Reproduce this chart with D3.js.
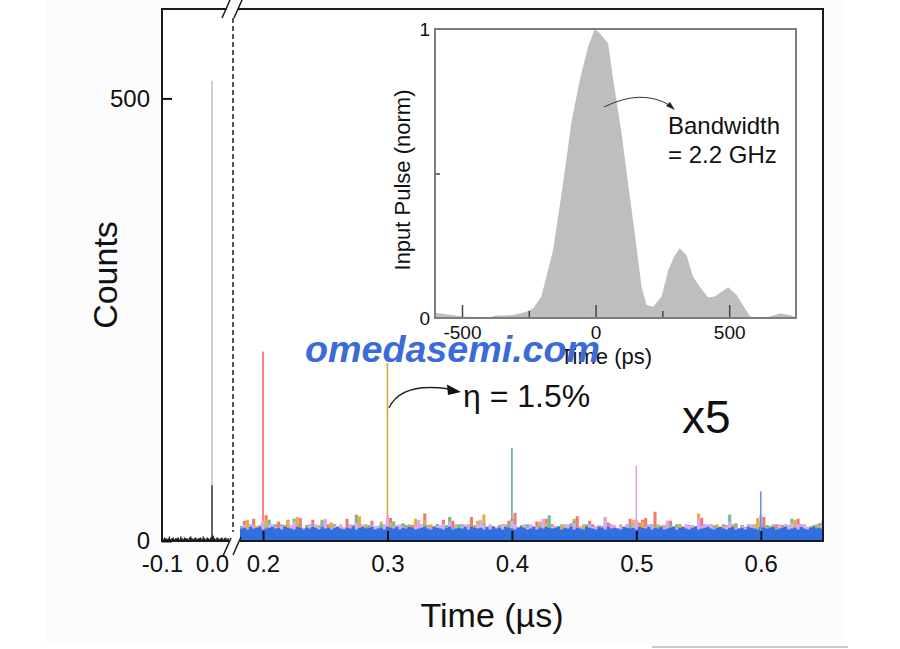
<!DOCTYPE html>
<html>
<head>
<meta charset="utf-8">
<script src="https://cdn.jsdelivr.net/npm/d3@7"></script>
<style>
  body { margin: 0; background: #fff; }
  text { font-family: "Liberation Sans", Arial, Helvetica, sans-serif; fill: #111; }
</style>
</head>
<body>
<svg id="chart" width="900" height="649"></svg>
<script>
// ---- data ----
var binWidth = 0.0025;           // us
var leftStart = -0.1;            // centre of first bin, left panel
var rightStart = 0.1825;         // centre of first bin, right panel

// left panel (before the break), raw counts
var leftCounts = [3,2,4,3,2,3,5,2,3,4, 2,3,3,4,2,5,3,2,4,3, 3,2,4,5,3,2,3,4,2,3,
                  3,4,2,5,3,2,4,3,2,4, 520, 6,3,2,4,3,2,3,4,2, 3,4,2,3];
var zeroPeakCore = 63;

// right panel (x5), one histogram per delay; noise counts written base-36 (a=10 ... z=35)
var seriesColors = ["#f47878", "#e6b03c", "#6cc38e", "#dcaaf2", "#2f6fe0"];
var peakColors   = ["#ff6464", "#d8a830", "#5cb87c", "#d6a6ef", "#5f95ea"];
var peakTimes  = [0.2, 0.3, 0.4, 0.5, 0.6];
var peakCounts = [214, 201, 105, 85, 56];

var noiseRed =
  "gneipfdjthhfmdioegjqeigofdhnjljdgfpeiuhffinehdjgqedhkgfimejviefjdoghnfgjehrdfike" +
  "ehfijgndwffidgemhjpgjgeifdkhsedgnjhieflgiegdjpheloqehxfidjnffjgeihdmqehdgifjeogk" +
  "eifghdnjrfgfjeihdmfpjhefgikdtg";
var noiseYellow =
  "egofihdjpfidgjenfhrefhjgdioegkdgifejhfsdjfehgmidlggidfjephfnejhgidfqfjhfejgineud" +
  "igfdejhofgdjgihfmekjfhejdgipgejifgehdrfdgdjfieohjmefhgjdingeijdfgehvfhfeijdhgmjg" +
  "dgfeijqhfhhjegfdieogfighdjelfe";
var noiseGreen =
  "hgdjfeimgofjeihdgpefdhfjgeniffjegdfihseggifehjdogmedjigfhkeihfgjedirfgjiefghdnje" +
  "fgdhiejpgfiejfdghletgfhdjeinfdejigfdhqejhdgeijfmgffijehgdkiejefdgihofjgjhefdiuej" +
  "digjhefnfihfeigjdpgeejdfigkmfj";
var noisePurple =
  "fiejgdhnejjgfhdeimgfedigjfhpfehgjefidlgjdfihgejsfgijgfdehojegedhijfmdgfhjgedioif" +
  "jdgfihenjfeifjhgdpgehgedijfkehdfjghieqfjiegfjdhogfgjhedifnehfdgjhieqhjjiefgdhmgf" +
  "ehfijgdteffgdjeihlfjijgefdhnge";
var noiseBlue =
  "efdgefgdefgefdgfedgfdfegfdgefdfgedfegdfgefgdefdgfegdfegfdefgedgfedfgdefegdgfefdg" +
  "dgefdgfedfgfdegdfegfefgdfegdfedgfedgfdgefedgfefdgfegdfegdefgdfgedfgdefgedfgedfgd" +
  "efdgfedgfefgdefgdefdgedfgefdge";
var noiseSeries = [noiseRed, noiseYellow, noiseGreen, noisePurple, noiseBlue];

var xTicksLeft = [-0.1, 0.0];
var xTicksRight = [0.2, 0.3, 0.4, 0.5, 0.6];
var yTicks = [0, 500];

// inset: input pulse
var pulseTime = [-601,-598,-500,-396,-377,-309,-259,-234,-203,-159,-120,-90,-59,-28,-3,16,47,66,97,
                 120,153,172,191,215,247,272,297,315,340,365,390,421,446,496,528,578,615,652,690,727,750];
var pulseNorm = [0.018,0.018,0.005,0.002,0.008,0.010,0.022,0.033,0.074,0.235,0.477,0.68,0.824,0.939,1.0,0.985,0.95,0.824,0.639,
                 0.477,0.247,0.108,0.045,0.039,0.074,0.166,0.218,0.241,0.218,0.143,0.108,0.071,0.074,0.106,0.08,0.005,0.0,0.005,0.016,0.01,0.003];
var insetXTicks = [-500, 0, 500];
var insetXMinor = [-250, 250];
var insetYTicks = [0, 1];
var insetYMinor = [0.5];

// ---- layout ----
var svg = d3.select("#chart");
var fL = 162, fR = 823, fT = 9, fB = 541;
var leftBreak = 229, rightBreak = 240;

svg.append("rect").attr("x", 46).attr("y", 0).attr("width", 797).attr("height", 643).attr("fill", "#fcfcfc");
svg.append("line").attr("x1", 652).attr("x2", 848).attr("y1", 647).attr("y2", 647)
    .attr("stroke", "#c9c9c9").attr("stroke-width", 2);
svg.append("rect").attr("x", fL).attr("y", fT).attr("width", fR - fL).attr("height", fB - fT)
    .attr("fill", "#fff");

var y = d3.scaleLinear().domain([0, 601]).range([fB, fT]);
var xL = d3.scaleLinear().domain([-0.1, 0.0]).range([162, 212]);
var xR = d3.scaleLinear().domain([0.1815, 0.65]).range([rightBreak, fR]);

var defs = svg.append("defs");
defs.append("clipPath").attr("id", "clipR").append("rect")
    .attr("x", rightBreak).attr("y", fT).attr("width", fR - rightBreak).attr("height", fB - fT);
defs.append("clipPath").attr("id", "clipL").append("rect")
    .attr("x", fL).attr("y", fT).attr("width", leftBreak - fL).attr("height", fB - fT);

// step area helper: values are bins centred at start + i*binWidth
function stepPath(x, start, values) {
  var pts = values.map(function(v, i) { return [start + i * binWidth - binWidth / 2, v]; });
  pts.push([start + values.length * binWidth - binWidth / 2, values[values.length - 1]]);
  return d3.area()
    .x(function(d) { return x(d[0]); })
    .y0(y(0))
    .y1(function(d) { return y(d[1]); })
    .curve(d3.curveStepAfter)(pts);
}

// left panel
var gL = svg.append("g").attr("clip-path", "url(#clipL)");
gL.append("path").attr("d", stepPath(xL, leftStart, leftCounts)).attr("fill", "#b3b3b3");
gL.append("path")
  .attr("d", stepPath(xL, leftStart, leftCounts.map(function(v) { return Math.min(v, zeroPeakCore); })))
  .attr("fill", "#222");

// right panel
var gR = svg.append("g").attr("clip-path", "url(#clipR)");
noiseSeries.forEach(function(s, k) {
  var vals = s.split("").map(function(c) { return parseInt(c, 36); });
  var pi = Math.round((peakTimes[k] - rightStart) / binWidth);
  gR.append("path").attr("d", stepPath(xR, rightStart, vals)).attr("fill", seriesColors[k]);
  var t = rightStart + pi * binWidth;
  gR.append("rect")
    .attr("x", xR(t) - 0.8).attr("width", 1.6)
    .attr("y", y(peakCounts[k])).attr("height", y(0) - y(peakCounts[k]))
    .attr("fill", peakColors[k]);
});

// frame with axis break
var frame = svg.append("g").attr("fill", "none").attr("stroke", "#1a1a1a").attr("stroke-width", 2);
frame.append("path").attr("d",
  "M" + 227 + "," + fT + "H" + fL + "V" + fB + "H" + leftBreak +
  "M" + rightBreak + "," + fB + "H" + fR + "V" + fT + "H" + 238);
[[226, fT], [238, fT], [227, fB + 6], [237, fB + 5]].forEach(function(c) {
  frame.append("line")
    .attr("x1", c[0] - 4).attr("y1", c[1] + 9).attr("x2", c[0] + 4).attr("y2", c[1] - 9)
    .attr("stroke-width", 1.5);
});
svg.append("line").attr("x1", 233).attr("x2", 233).attr("y1", 18).attr("y2", 532)
  .attr("stroke", "#555").attr("stroke-width", 2).attr("stroke-dasharray", "5,3");

// axes
var fmt1 = function(d) { return d.toFixed(1); };
var axY = svg.append("g").attr("transform", "translate(" + fL + ",0)")
  .call(d3.axisLeft(y).tickValues(yTicks).tickSize(-10).tickPadding(12));
var axXR = svg.append("g").attr("transform", "translate(0," + fB + ")")
  .call(d3.axisBottom(xR).tickValues(xTicksRight).tickSize(-10).tickPadding(14).tickFormat(fmt1));
var axXL = svg.append("g").attr("transform", "translate(0," + fB + ")")
  .call(d3.axisBottom(xL).tickValues(xTicksLeft).tickSize(0).tickPadding(14).tickFormat(fmt1));
[axY, axXR, axXL].forEach(function(a) {
  a.select(".domain").remove();
  a.selectAll(".tick line").attr("stroke", "#111").attr("stroke-width", 2);
  a.selectAll("text").style("font-size", "24px").attr("fill", "#111");
});

svg.append("text").attr("transform", "translate(117,275) rotate(-90)")
  .attr("text-anchor", "middle").style("font-size", "34px").text("Counts");
svg.append("text").attr("x", 492).attr("y", 627)
  .attr("text-anchor", "middle").style("font-size", "34px").text("Time (\u00b5s)");

// annotation
svg.append("path").attr("d", "M389,408 Q401,382 449,389")
  .attr("fill", "none").attr("stroke", "#222").attr("stroke-width", 1.3);
svg.append("path").attr("d", "M461,392 L447,384.5 L448,395 Z").attr("fill", "#111");
svg.append("text").attr("x", 463).attr("y", 407).style("font-size", "32px").text("\u03b7 = 1.5%");
svg.append("text").attr("x", 682).attr("y", 433).style("font-size", "46px").text("x5");

// ---- inset ----
var iL = 435, iR = 796, iT = 29, iB = 318;
var ix = d3.scaleLinear().domain([-601, 750]).range([iL, iR]);
var iy = d3.scaleLinear().domain([0, 1]).range([iB, iT]);
defs.append("clipPath").attr("id", "clipI").append("rect")
  .attr("x", iL).attr("y", iT).attr("width", iR - iL).attr("height", iB - iT);
svg.append("rect").attr("x", iL).attr("y", iT).attr("width", iR - iL).attr("height", iB - iT).attr("fill", "#fff");
svg.append("path").attr("clip-path", "url(#clipI)")
  .datum(pulseTime.map(function(t, i) { return [t, pulseNorm[i]]; }))
  .attr("fill", "#bebebe")
  .attr("d", d3.area().x(function(d) { return ix(d[0]); }).y0(iB).y1(function(d) { return iy(d[1]); }));

var axIX = svg.append("g").attr("transform", "translate(0," + iB + ")")
  .call(d3.axisBottom(ix).tickValues(insetXTicks).tickSize(-13).tickPadding(8).tickFormat(function(d) { return String(d); }));
var axIXm = svg.append("g").attr("transform", "translate(0," + iB + ")")
  .call(d3.axisBottom(ix).tickValues(insetXMinor).tickSize(-7).tickFormat(""));
var axIY = svg.append("g").attr("transform", "translate(" + iL + ",0)")
  .call(d3.axisLeft(iy).tickValues(insetYTicks).tickSize(0).tickPadding(5).tickFormat(d3.format("d")));
var axIYm = svg.append("g").attr("transform", "translate(" + iL + ",0)")
  .call(d3.axisLeft(iy).tickValues(insetYMinor).tickSize(-5).tickFormat(""));
[axIX, axIXm, axIY, axIYm].forEach(function(a) {
  a.select(".domain").remove();
  a.selectAll(".tick line").attr("stroke", "#444").attr("stroke-width", 1.5);
  a.selectAll("text").style("font-size", "19px").attr("fill", "#222");
});
svg.append("rect").attr("x", iL).attr("y", iT).attr("width", iR - iL).attr("height", iB - iT)
  .attr("fill", "none").attr("stroke", "#7d7d7d").attr("stroke-width", 2);

svg.append("text").attr("transform", "translate(410,180) rotate(-90)")
  .attr("text-anchor", "middle").style("font-size", "22px").text("Input Pulse (norm)");
svg.append("text").attr("x", 606).attr("y", 364)
  .attr("text-anchor", "middle").style("font-size", "22px").text("Time (ps)");
svg.append("path").attr("d", "M604,107 Q642,88 671,106")
  .attr("fill", "none").attr("stroke", "#333").attr("stroke-width", 1);
svg.append("path").attr("d", "M675,110 L666,106 L670,102 Z").attr("fill", "#222");
svg.append("text").attr("x", 668).attr("y", 134).style("font-size", "24px").text("Bandwidth");
svg.append("text").attr("x", 668).attr("y", 163).style("font-size", "24px").text("= 2.2 GHz");

// watermark
svg.append("text").attr("x", 305).attr("y", 362)
  .attr("textLength", 295).attr("lengthAdjust", "spacingAndGlyphs")
  .style("font-size", "37px").style("font-weight", "bold").style("font-style", "italic")
  .style("fill", "#3a6bd6").text("omedasemi.com");
</script>
</body>
</html>
